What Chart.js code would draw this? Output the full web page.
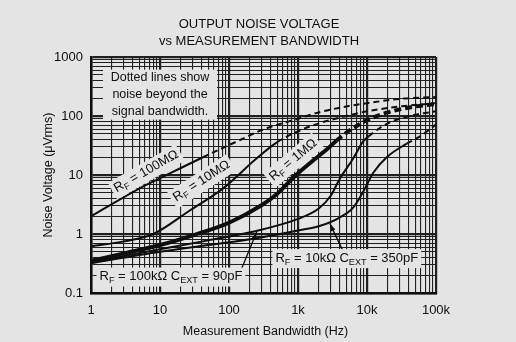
<!DOCTYPE html>
<html lang="en">
<head>
  <meta charset="UTF-8" />
  <title>Output Noise Voltage vs Measurement Bandwidth</title>
  <script src="https://cdn.jsdelivr.net/npm/chart.js"></script>
  <style>
    body {
      margin: 0;
      background: #e4e4e4;
    }
    #wrap {
      width: 516px;
      height: 342px;
      position: relative;
    }
  </style>
</head>
<body>
  <div id="wrap"><canvas id="noiseChart"></canvas></div>

  <script>
    // curve data (Hz, uVrms); dashFrom = index where dotted part starts
    const r100mHz = [1, 5, 10, 42, 150, 300, 1000, 2000, 5000, 10000, 30000, 100000];
    const r100mUv = [2.0, 5.9, 8.8, 20, 40, 58, 90, 115, 145, 165, 195, 210];
    const r100mDashFrom = 3;

    const r10mHz = [1, 3, 8, 27, 83, 250, 500, 1000, 2000, 5000, 10000, 30000, 100000];
    const r10mUv = [0.62, 0.75, 1.0, 2.5, 6, 19, 36, 55, 75, 100, 120, 145, 165];
    const r10mDashFrom = 6;

    const r1mHz = [1, 3, 10, 30, 100, 300, 500, 850, 1500, 2600, 3600, 5000, 10000, 20000, 50000, 100000];
    const r1mUv = [0.35, 0.47, 0.65, 0.95, 1.55, 3.1, 4.8, 9, 16, 27, 38, 52, 85, 115, 145, 160];
    const r1mDashFrom = 10;

    const r100kHz = [1, 10, 50, 230, 1000, 2000, 3000, 4000, 6300, 8800, 10500, 20000, 50000, 100000];
    const r100kUv = [0.33, 0.55, 0.78, 1.1, 1.8, 2.7, 4.5, 8.5, 19, 37, 45, 75, 105, 120];
    const r100kDashFrom = 10;

    const r10kHz = [1, 10, 50, 250, 1000, 2000, 4000, 6300, 8800, 12400, 19300, 37600, 58500, 100000];
    const r10kUv = [0.32, 0.5, 0.65, 0.85, 1.15, 1.35, 1.9, 2.8, 5.2, 11, 20, 34, 45, 72];
    const r10kDashFrom = 11;

    const xDecades = [1, 10, 100, 1000, 10000, 100000];
    const xTickLabels = ['1', '10', '100', '1k', '10k', '100k'];
    const yDecades = [0.1, 1, 10, 100, 1000];
    const yTickLabels = ['0.1', '1', '10', '100', '1000'];

    const INK = '#0e0e0e';
    const PAPER = '#e4e4e4';
    const FONT = '"Liberation Sans", Arial, sans-serif';

    // 1..9 in every decade for the grid
    function logGrid(decades) {
      const vals = [];
      for (let i = 0; i < decades.length - 1; i++) {
        for (let m = 1; m <= 9; m++) vals.push(+(decades[i] * m).toPrecision(3));
      }
      vals.push(decades[decades.length - 1]);
      return vals;
    }
    const isDecade = v => Math.abs(Math.log10(v) - Math.round(Math.log10(v))) < 1e-6;

    function curve(hz, uv, dashFrom, width, dash) {
      return {
        data: hz.map((f, i) => ({ x: f, y: uv[i] })),
        borderColor: INK,
        borderWidth: width,
        pointRadius: 0,
        fill: false,
        cubicInterpolationMode: 'monotone',
        segment: {
          borderDash: ctx => ctx.p0DataIndex >= dashFrom ? dash : []
        }
      };
    }

    // text with subscripts: parts = [[text, isSub], ...]
    function richWidth(ctx, parts, size) {
      let w = 0;
      parts.forEach(([t, sub]) => {
        ctx.font = (sub ? size * 0.7 : size) + 'px ' + FONT;
        w += ctx.measureText(t).width;
      });
      return w;
    }
    function drawRich(ctx, parts, x, y, size) {
      const w = richWidth(ctx, parts, size);
      let cx = x - w / 2;
      ctx.textBaseline = 'middle';
      ctx.textAlign = 'left';
      parts.forEach(([t, sub]) => {
        ctx.font = (sub ? size * 0.7 : size) + 'px ' + FONT;
        ctx.fillText(t, cx, sub ? y + size * 0.3 : y);
        cx += ctx.measureText(t).width;
      });
      return w;
    }

    const curveLabels = [
      { parts: [['R', 0], ['F', 1], [' = 100MΩ', 0]], f: 6.3, v: 11.5, angle: -30 },
      { parts: [['R', 0], ['F', 1], [' = 10MΩ', 0]], f: 40, v: 7.9, angle: -33 },
      { parts: [['R', 0], ['F', 1], [' = 1MΩ', 0]], f: 850, v: 18, angle: -40 },
      { parts: [['R', 0], ['F', 1], [' = 100kΩ C', 0], ['EXT', 1], [' = 90pF', 0]], f: 14.4, v: 0.19, angle: 0 },
      { parts: [['R', 0], ['F', 1], [' = 10kΩ C', 0], ['EXT', 1], [' = 350pF', 0]], f: 5100, v: 0.39, angle: 0 }
    ];
    const arrows = [
      { from: [144, 0.22], to: [252, 1.08] },
      { from: [4700, 0.46], to: [2900, 1.5] }
    ];
    const noteLines = ['Dotted lines show', 'noise beyond the', 'signal bandwidth.'];

    const paperPlugin = {
      id: 'paper',
      beforeDraw(chart) {
        const ctx = chart.ctx;
        ctx.save();
        ctx.fillStyle = PAPER;
        ctx.fillRect(0, 0, chart.width, chart.height);
        ctx.restore();
      }
    };

    const notesPlugin = {
      id: 'notes',
      afterDatasetsDraw(chart) {
        const ctx = chart.ctx;
        const xs = chart.scales.x, ys = chart.scales.y;
        const area = chart.chartArea;
        ctx.save();
        ctx.fillStyle = INK;
        ctx.strokeStyle = INK;

        // note box
        const nx = xs.getPixelForValue(10), ny = ys.getPixelForValue(230);
        ctx.fillStyle = PAPER;
        ctx.fillRect(nx - 57, ny - 25, 114, 50);
        ctx.fillStyle = INK;
        ctx.font = '12.5px ' + FONT;
        ctx.textAlign = 'center';
        ctx.textBaseline = 'middle';
        noteLines.forEach((t, i) => ctx.fillText(t, nx, ny + (i - 1) * 17));

        // arrows
        ctx.lineWidth = 1.3;
        arrows.forEach(a => {
          const x0 = xs.getPixelForValue(a.from[0]), y0 = ys.getPixelForValue(a.from[1]);
          const x1 = xs.getPixelForValue(a.to[0]), y1 = ys.getPixelForValue(a.to[1]);
          const ang = Math.atan2(y1 - y0, x1 - x0);
          ctx.beginPath();
          ctx.moveTo(x0, y0);
          ctx.lineTo(x1, y1);
          ctx.stroke();
          ctx.beginPath();
          ctx.moveTo(x1, y1);
          ctx.lineTo(x1 - 8 * Math.cos(ang - 0.3), y1 - 8 * Math.sin(ang - 0.3));
          ctx.lineTo(x1 - 8 * Math.cos(ang + 0.3), y1 - 8 * Math.sin(ang + 0.3));
          ctx.closePath();
          ctx.fill();
        });

        // curve labels
        curveLabels.forEach(l => {
          const px = xs.getPixelForValue(l.f), py = ys.getPixelForValue(l.v);
          ctx.save();
          ctx.translate(px, py);
          ctx.rotate(l.angle * Math.PI / 180);
          const w = richWidth(ctx, l.parts, 13);
          ctx.fillStyle = PAPER;
          ctx.fillRect(-w / 2 - 3, -9, w + 6, 19);
          ctx.fillStyle = INK;
          drawRich(ctx, l.parts, 0, 0, 13);
          ctx.restore();
        });

        // titles
        ctx.font = '13px ' + FONT;
        ctx.textAlign = 'center';
        ctx.textBaseline = 'middle';
        ctx.fillText('OUTPUT NOISE VOLTAGE', 259, 24);
        ctx.fillText('vs MEASUREMENT BANDWIDTH', 259, 41);
        ctx.font = '12.5px ' + FONT;
        ctx.fillText('Measurement Bandwidth (Hz)', (area.left + area.right) / 2 + 2, 332);
        ctx.save();
        ctx.translate(49, (area.top + area.bottom) / 2);
        ctx.rotate(-Math.PI / 2);
        ctx.fillText('Noise Voltage (μVrms)', 0, 0);
        ctx.restore();
        ctx.restore();
      }
    };

    const ctx = document.getElementById('noiseChart').getContext('2d');
    new Chart(ctx, {
      type: 'line',
      data: {
        datasets: [
          curve(r100mHz, r100mUv, r100mDashFrom, 2, [6, 4]),
          curve(r10mHz, r10mUv, r10mDashFrom, 2, [6, 4]),
          curve(r1mHz, r1mUv, r1mDashFrom, 4, [7, 4]),
          curve(r100kHz, r100kUv, r100kDashFrom, 2, [6, 4]),
          curve(r10kHz, r10kUv, r10kDashFrom, 2, [6, 4])
        ]
      },
      options: {
        responsive: true,
        maintainAspectRatio: false,
        animation: false,
        layout: { padding: { top: 57, right: 80, left: 0, bottom: 0 } },
        plugins: {
          legend: { display: false },
          tooltip: { enabled: false }
        },
        scales: {
          x: {
            type: 'logarithmic',
            min: 1,
            max: 100000,
            afterBuildTicks: s => { s.ticks = logGrid(xDecades).map(v => ({ value: v })); },
            afterFit: s => { s.height = 49; },
            ticks: {
              autoSkip: false,
              maxRotation: 0,
              padding: 10,
              color: INK,
              font: { family: FONT, size: 13 },
              callback: v => { const i = xDecades.indexOf(v); return i >= 0 ? xTickLabels[i] : ''; }
            },
            grid: {
              drawTicks: false,
              color: '#202020',
              lineWidth: c => (c.tick && isDecade(c.tick.value)) ? 2.2 : 1.1
            },
            border: { display: true, color: INK, width: 2.5 }
          },
          y: {
            type: 'logarithmic',
            min: 0.1,
            max: 1000,
            afterBuildTicks: s => { s.ticks = logGrid(yDecades).map(v => ({ value: v })); },
            afterFit: s => { s.width = 91; },
            ticks: {
              autoSkip: false,
              padding: 8,
              color: INK,
              font: { family: FONT, size: 13 },
              callback: v => { const i = yDecades.indexOf(v); return i >= 0 ? yTickLabels[i] : ''; }
            },
            grid: {
              drawTicks: false,
              color: '#202020',
              lineWidth: c => (c.tick && isDecade(c.tick.value)) ? 2.2 : 1.1
            },
            border: { display: true, color: INK, width: 2.5 }
          }
        }
      },
      plugins: [paperPlugin, notesPlugin]
    });
  </script>
</body>
</html>
